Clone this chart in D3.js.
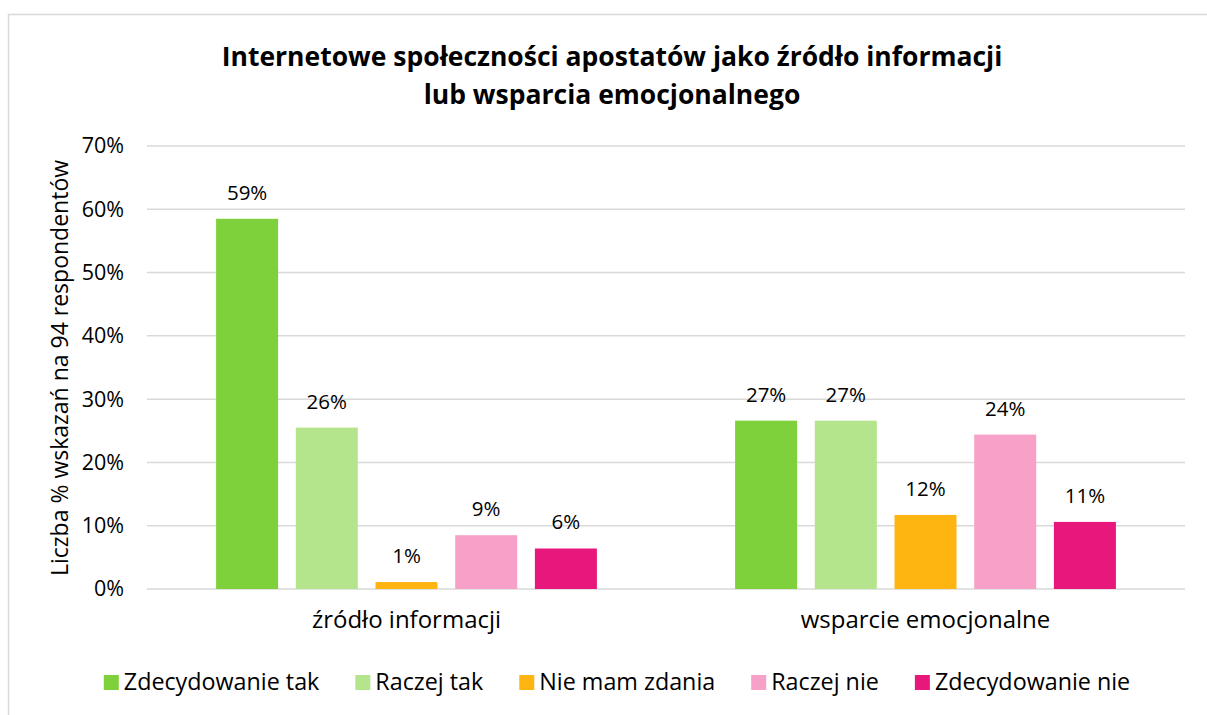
<!DOCTYPE html>
<html>
<head>
<meta charset="utf-8">
<script src="https://cdn.jsdelivr.net/npm/d3@7"></script>
<style>
  body { margin: 0; background: #fff; }
  svg { font-family: "Open Sans", sans-serif; display: block; }
</style>
</head>
<body>
<div id="chart"></div>
<script>
// data (share of 94 respondents, %)
const groups = ["źródło informacji", "wsparcie emocjonalne"];
const seriesNames = ["Zdecydowanie tak", "Raczej tak", "Nie mam zdania", "Raczej nie", "Zdecydowanie nie"];
const seriesColors = ["#7fd13b", "#b4e48c", "#ffb511", "#f7a1c8", "#e8177b"];
const zrodloValues = [58.5, 25.5, 1.1, 8.5, 6.4];
const wsparcieValues = [26.6, 26.6, 11.7, 24.4, 10.6];
const yTicks = [0, 10, 20, 30, 40, 50, 60, 70];

const values = [zrodloValues, wsparcieValues];

var W = 1207, H = 715;
var margin = {top: 146, right: 22, bottom: 126, left: 147},
    width = W - margin.left - margin.right,
    height = H - margin.top - margin.bottom;

const svg = d3.select("#chart").append("svg")
    .attr("width", W)
    .attr("height", H);

// chart border (cropped on right / bottom)
svg.append("rect")
    .attr("x", 8.5).attr("y", 14.5)
    .attr("width", W + 20).attr("height", H + 20)
    .attr("fill", "none")
    .attr("stroke", "#d9d9d9")
    .attr("stroke-width", 1.5);

// title
svg.append("text")
    .attr("x", 612).attr("y", 66)
    .attr("text-anchor", "middle")
    .attr("font-size", 26.5).attr("font-weight", "bold")
    .text("Internetowe społeczności apostatów jako źródło informacji");
svg.append("text")
    .attr("x", 612).attr("y", 104)
    .attr("text-anchor", "middle")
    .attr("font-size", 26.5).attr("font-weight", "bold")
    .text("lub wsparcia emocjonalnego");

const g = svg.append("g")
    .attr("transform", "translate(" + margin.left + "," + margin.top + ")");

var y = d3.scaleLinear()
    .domain([0, 70])
    .range([height, 0]);

var x0 = d3.scaleBand()
    .domain(groups)
    .range([0, width])
    .padding(0);

var x1 = d3.scaleBand()
    .domain(seriesNames)
    .range([0, x0.bandwidth()])
    .paddingInner(0.222)
    .paddingOuter(0.867);

// gridlines
g.append("g")
    .selectAll("line")
    .data(yTicks)
    .enter()
    .append("line")
    .attr("x1", 0).attr("x2", width)
    .attr("y1", d => y(d)).attr("y2", d => y(d))
    .attr("stroke", "#d9d9d9")
    .attr("stroke-width", 1.5);

// y axis labels
const yAxis = g.append("g")
    .call(d3.axisLeft(y).tickValues(yTicks).tickFormat(d => d + "%").tickSize(0).tickPadding(23));
yAxis.select(".domain").remove();
yAxis.selectAll("text")
    .attr("font-size", 21.5)
    .attr("font-family", "'Open Sans', sans-serif")
    .attr("fill", "#000");

// y axis title
svg.append("text")
    .attr("transform", "translate(68,368)rotate(-90)")
    .attr("text-anchor", "middle")
    .attr("font-size", 23)
    .text("Liczba % wskazań na 94 respondentów");

// bars
const grp = g.selectAll(".grp")
    .data(groups)
    .enter()
    .append("g")
    .attr("transform", d => "translate(" + x0(d) + ",0)");

grp.selectAll("rect")
    .data((d, gi) => seriesNames.map((s, si) => ({s: s, v: values[gi][si], c: seriesColors[si]})))
    .enter()
    .append("rect")
    .attr("x", d => x1(d.s))
    .attr("y", d => y(d.v))
    .attr("width", x1.bandwidth())
    .attr("height", d => y(0) - y(d.v))
    .attr("fill", d => d.c);

grp.selectAll(".lbl")
    .data((d, gi) => seriesNames.map((s, si) => ({s: s, v: values[gi][si]})))
    .enter()
    .append("text")
    .attr("x", d => x1(d.s) + x1.bandwidth() / 2)
    .attr("y", d => y(d.v) - 19)
    .attr("text-anchor", "middle")
    .attr("font-size", 20.5)
    .text(d => Math.round(d.v) + "%");

// category labels
const xAxis = g.append("g")
    .attr("transform", "translate(0," + height + ")")
    .call(d3.axisBottom(x0).tickSize(0).tickPadding(22));
xAxis.select(".domain").remove();
xAxis.selectAll("text")
    .attr("font-size", 24)
    .attr("font-family", "'Open Sans', sans-serif")
    .attr("fill", "#000");

// legend
const legend = svg.append("g");
const legItems = legend.selectAll("g")
    .data(seriesNames)
    .enter()
    .append("g");
legItems.append("rect")
    .attr("width", 15).attr("height", 15)
    .attr("y", -15)
    .attr("fill", (d, i) => seriesColors[i]);
legItems.append("text")
    .attr("x", 20)
    .attr("y", 0)
    .attr("font-size", 23.3)
    .text(d => d);

var lx = 0;
legItems.each(function() {
    const w = this.querySelector("text").getComputedTextLength() + 20;
    this.setAttribute("transform", "translate(" + lx + ",0)");
    lx += w + 36;
});
lx -= 36;
legend.attr("transform", "translate(" + (617 - lx / 2) + ",690)");
</script>
</body>
</html>
